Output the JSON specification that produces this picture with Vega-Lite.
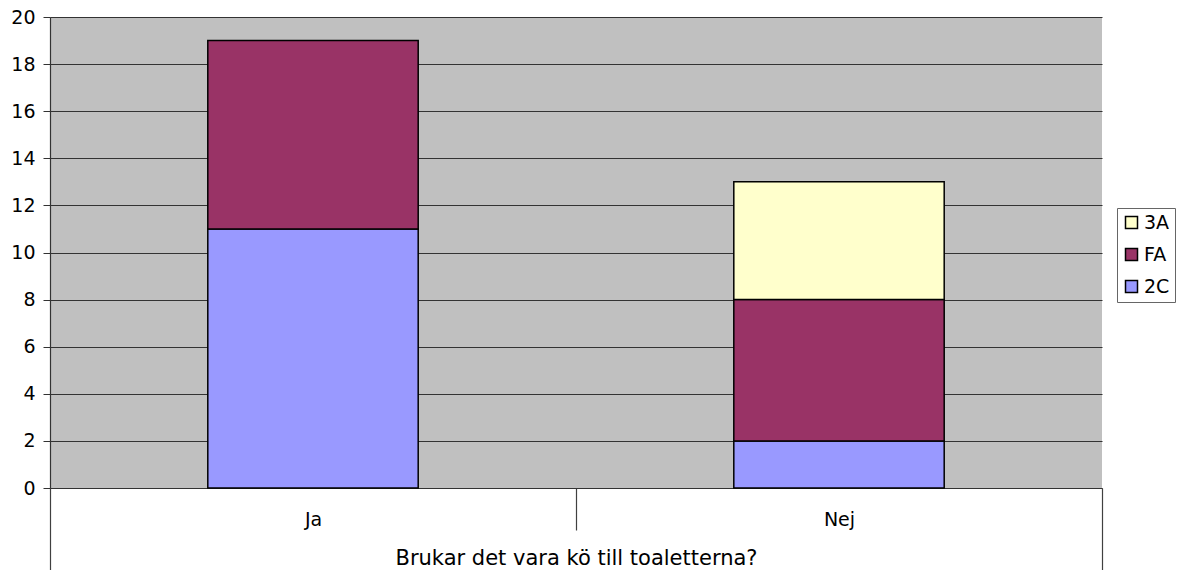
{
  "$schema": "https://vega.github.io/schema/vega-lite/v6.json",
  "width": 1052,
  "height": 471,
  "autosize": {"type": "none"},
  "padding": {"left": 50, "top": 17, "right": 79, "bottom": 82},
  "background": "white",
  "config": {
    "font": "DejaVu Sans",
    "view": {"fill": "#C0C0C0", "stroke": null}
  },
  "data": {
    "values": [
      {"answer": "Ja", "class": "2C", "series": 1, "count": 11},
      {"answer": "Ja", "class": "FA", "series": 2, "count": 8},
      {"answer": "Nej", "class": "2C", "series": 1, "count": 2},
      {"answer": "Nej", "class": "FA", "series": 2, "count": 6},
      {"answer": "Nej", "class": "3A", "series": 3, "count": 5}
    ]
  },
  "mark": {"type": "bar", "stroke": "black", "strokeWidth": 1.5, "width": {"band": 0.4}},
  "encoding": {
    "x": {
      "field": "answer",
      "type": "nominal",
      "sort": ["Ja", "Nej"],
      "scale": {"paddingInner": 0, "paddingOuter": 0},
      "axis": {
        "title": "Brukar det vara kö till toaletterna?",
        "labelAngle": 0,
        "tickBand": "extent",
        "tickSize": 82,
        "tickColor": "#404040",
        "tickWidth": 1.2,
        "domainColor": "#333333",
        "domainWidth": 1.2,
        "labelFontSize": 19,
        "labelPadding": -60,
        "labelColor": "black",
        "titleFontSize": 21,
        "titleFontWeight": "normal",
        "titleColor": "black",
        "titleY": 70,
        "titleBaseline": "middle",
        "encoding": {"ticks": {"y2": {"condition": {"test": "datum.value === 'Ja'", "value": 42}, "value": 82}}}
      }
    },
    "y": {
      "field": "count",
      "type": "quantitative",
      "stack": "zero",
      "scale": {"domain": [0, 20], "nice": false},
      "axis": {
        "title": null,
        "values": [0, 2, 4, 6, 8, 10, 12, 14, 16, 18, 20],
        "tickSize": 7,
        "tickColor": "#333333",
        "labelPadding": 8,
        "labelFontSize": 19,
        "labelColor": "black",
        "gridColor": "#333333",
        "gridWidth": 1.2,
        "domainColor": "#333333",
        "domainWidth": 1.2
      }
    },
    "order": {"field": "series", "type": "quantitative", "sort": "ascending"},
    "color": {
      "field": "class",
      "type": "nominal",
      "scale": {"domain": ["2C", "FA", "3A"], "range": ["#9999FF", "#993366", "#FFFFCC"]},
      "legend": {
        "title": null,
        "values": ["3A", "FA", "2C"],
        "orient": "none",
        "legendX": 1067,
        "legendY": 191,
        "strokeColor": "#666666",
        "fillColor": "white",
        "padding": 5,
        "rowPadding": 12,
        "symbolType": "square",
        "symbolSize": 144,
        "symbolStrokeColor": "black",
        "symbolStrokeWidth": 1.5,
        "symbolOpacity": 1,
        "labelFontSize": 19,
        "labelColor": "black",
        "labelOffset": 3
      }
    }
  }
}
